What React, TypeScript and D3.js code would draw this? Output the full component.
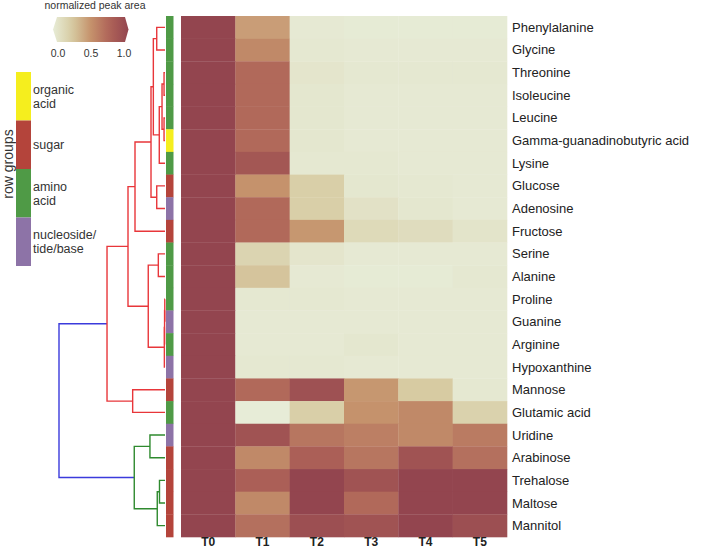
import React from "react";
import * as d3 from "d3";

const rows = ["Phenylalanine","Glycine","Threonine","Isoleucine","Leucine","Gamma-guanadinobutyric acid","Lysine","Glucose","Adenosine","Fructose","Serine","Alanine","Proline","Guanine","Arginine","Hypoxanthine","Mannose","Glutamic acid","Uridine","Arabinose","Trehalose","Maltose","Mannitol"];
const times = ["T0","T1","T2","T3","T4","T5"];
const rowGroup = ["amino","amino","amino","amino","amino","organic","amino","sugar","nucleo","sugar","amino","amino","amino","nucleo","amino","nucleo","sugar","amino","nucleo","sugar","sugar","sugar","sugar"];
const groupKeys = ["organic","sugar","amino","nucleo"];
const groupLabels = [["organic","acid"],["sugar"],["amino","acid"],["nucleoside/","tide/base"]];
const values = [
  [1,0.45,0.02,0.01,0.01,0.01],
  [1,0.55,0.03,0.02,0.02,0.02],
  [1,0.72,0.05,0.03,0.03,0.03],
  [1,0.72,0.04,0.02,0.02,0.02],
  [1,0.72,0.04,0.02,0.02,0.02],
  [1,0.72,0.04,0.02,0.02,0.02],
  [1,0.85,0.03,0.03,0.02,0.02],
  [1,0.5,0.22,0.04,0.03,0.02],
  [1,0.72,0.22,0.08,0.04,0.02],
  [1,0.72,0.48,0.14,0.12,0.06],
  [1,0.18,0.05,0.02,0.02,0.02],
  [1,0.28,0.02,0.01,0.01,0.03],
  [1,0.03,0.03,0.02,0.02,0.02],
  [1,0.02,0.02,0.02,0.02,0.02],
  [1,0.02,0.02,0.04,0.02,0.02],
  [1,0.03,0.03,0.02,0.02,0.02],
  [1,0.72,0.9,0.48,0.25,0.03],
  [1,0.0,0.22,0.5,0.55,0.2],
  [1,0.88,0.65,0.6,0.55,0.62],
  [1,0.55,0.78,0.65,0.88,0.68],
  [1,0.78,1,0.88,1,1],
  [1,0.55,1,0.72,1,1],
  [1,0.68,0.92,0.88,1,0.92],
];
// linkage: [left, right, height]; leaves are 0..22, new nodes 23..
const linkage = [
  [0,1,0.78],[2,3,0.09],[4,5,0.09],[24,25,0.28],[26,6,0.54],[23,27,1.10],
  [7,8,0.78],[28,29,1.32],[30,9,2.83],[10,11,0.63],[12,13,0.02],[33,14,0.04],
  [34,15,0.06],[32,35,1.58],[31,36,3.49],[16,17,3.05],[37,38,5.47],
  [18,19,1.42],[20,21,0.52],[41,22,0.73],[40,42,2.90],[39,43,10],
];
const legendTicks = [0, 0.5, 1];

const groupColor = d3.scaleOrdinal<string,string>().domain(groupKeys).range(["#f5ee1e","#b4443b","#4f9a46","#8d73a7"]);
const color = d3.scaleLinear<string>().domain([0,0.25,0.5,0.75,1]).range(["#e7ecd7","#d7cba2","#c5926c","#ae6358","#93454f"]).interpolate(d3.interpolateRgb);

export default function App() {
  const x = d3.scaleBand().domain(times).range([181, 507]);
  const y = d3.scaleBand().domain(rows).range([16, 537]);
  const h = d3.scaleLinear().domain([0, 10]).range([165, 59]);
  const n = rows.length;
  const nodes: {x:number,y:number}[] = rows.map((r) => ({ x: h(0), y: (y(r) as number) + y.bandwidth() / 2 }));
  linkage.forEach(([a, b, ht]) => {
    nodes.push({ x: h(ht), y: (nodes[a].y + nodes[b].y) / 2 });
  });
  const paths: {d:string,c:string}[] = [];
  const walk = (id: number, c: string) => {
    if (id < n) return;
    const [a, b] = linkage[id - n];
    const p = d3.path();
    p.moveTo(nodes[a].x, nodes[a].y);
    p.lineTo(nodes[id].x, nodes[a].y);
    p.lineTo(nodes[id].x, nodes[b].y);
    p.lineTo(nodes[b].x, nodes[b].y);
    paths.push({ d: p.toString(), c });
    if (c === "#3b3bdc") {
      walk(a, "#e8363a");
      walk(b, "#2f8a2f");
    } else {
      walk(a, c);
      walk(b, c);
    }
  };
  walk(n + linkage.length - 1, "#3b3bdc");

  const lx = d3.scaleLinear().domain([0, 1]).range([58, 124]);
  const gy = d3.scaleBand().domain(groupKeys).range([72, 266]);
  const font = "Arial, 'Liberation Sans', sans-serif";

  return (
    <svg width={708} height={549} style={{ position: "absolute", left: 0, top: 0, fontFamily: font }}>
      <defs>
        <linearGradient id="lg" x1="0" x2="1" y1="0" y2="0">
          {d3.range(0, 1.01, 0.1).map((t) => (
            <stop key={t} offset={t} stopColor={color(t)} />
          ))}
        </linearGradient>
      </defs>
      {/* color legend */}
      <text x={95} y={9} fontSize={10.5} textAnchor="middle" fill="#333">normalized peak area</text>
      <polygon points="53,29.5 57,17 125,17 128.5,29.5 125,42 57,42" fill="url(#lg)" />
      {legendTicks.map((t) => (
        <text key={t} x={lx(t)} y={57} fontSize={10.5} textAnchor="middle" fill="#333">{t.toFixed(1)}</text>
      ))}
      {/* row group legend */}
      <text transform="translate(13,164) rotate(-90)" fontSize={14} textAnchor="middle" fill="#333">row groups</text>
      {groupKeys.map((g, i) => (
        <g key={g}>
          <rect x={16} y={gy(g)} width={15} height={gy.bandwidth()} fill={groupColor(g)} />
          {groupLabels[i].map((l, j) => (
            <text key={j} x={33} y={(gy(g) as number) + gy.bandwidth() / 2 + 4.5 + (j - (groupLabels[i].length - 1) / 2) * 14} fontSize={12.5} fill="#333">{l}</text>
          ))}
        </g>
      ))}
      {/* dendrogram */}
      {paths.map((p, i) => (
        <path key={i} d={p.d} fill="none" stroke={p.c} strokeWidth={1.4} />
      ))}
      {/* row strip */}
      {rows.map((r, i) => (
        <rect key={r} x={166} y={y(r)} width={7.5} height={y.bandwidth() + 0.3} fill={groupColor(rowGroup[i])} />
      ))}
      {/* heatmap */}
      {rows.map((r, i) =>
        times.map((t, j) => (
          <rect key={r + t} x={x(t)} y={y(r)} width={x.bandwidth() + 0.3} height={y.bandwidth() + 0.3} fill={color(values[i][j])} />
        ))
      )}
      {rows.map((r) => (
        <text key={r} x={512} y={(y(r) as number) + y.bandwidth() / 2 + 4.5} fontSize={13} fill="#222">{r}</text>
      ))}
      {times.map((t) => (
        <text key={t} x={(x(t) as number) + x.bandwidth() / 2} y={546} fontSize={12} fontWeight="bold" textAnchor="middle" fill="#222">{t}</text>
      ))}
    </svg>
  );
}
